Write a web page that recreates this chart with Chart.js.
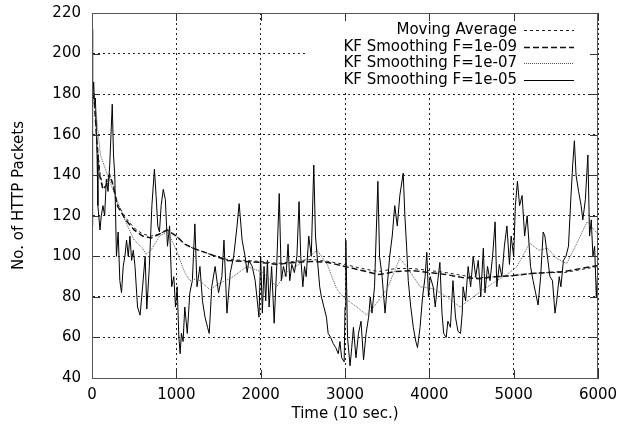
<!DOCTYPE html>
<html>
<head>
<meta charset="utf-8">
<script src="https://cdn.jsdelivr.net/npm/chart.js@4/dist/chart.umd.min.js"></script>
<style>
  html, body { margin: 0; padding: 0; background: #fff; }
  #wrap { width: 632px; height: 431px; }
</style>
</head>
<body>
<div id="wrap"><canvas id="kfChart" width="632" height="431"></canvas></div>
<script>
// raw-ish KF F=1e-05 trace (time, packets)
const rawTime = [0, 5, 10, 20, 30, 40, 50, 60, 70, 80, 95, 110, 130, 150, 170, 190, 210, 225, 240, 255,
  270, 290, 310, 330, 350, 370, 390, 410, 430, 450, 470, 490, 510, 540, 570, 600, 630, 650, 680, 710,
  740, 760, 780, 800, 820, 845, 870, 895, 920, 945, 970, 990, 1010, 1030, 1045, 1060, 1080, 1100, 1130, 1160,
  1190, 1220, 1245, 1280, 1310, 1340, 1370, 1390, 1420, 1460, 1500, 1540, 1565, 1600, 1640, 1680, 1720, 1745, 1780, 1815,
  1840, 1860, 1900, 1935, 1960, 1980, 2000, 2020, 2040, 2060, 2080, 2100, 2130, 2160, 2190, 2220, 2245, 2270, 2300, 2325,
  2345, 2370, 2400, 2430, 2455, 2475, 2500, 2520, 2540, 2570, 2600, 2630, 2650, 2670, 2700, 2720, 2750, 2780, 2800, 2830,
  2860, 2890, 2920, 2940, 2960, 2990, 3000, 3010, 3030, 3060, 3080, 3100, 3130, 3160, 3190, 3220, 3250, 3280, 3300, 3320,
  3350, 3390, 3410, 3440, 3475, 3500, 3530, 3560, 3590, 3620, 3650, 3690, 3710, 3730, 3750, 3780, 3810, 3840, 3860, 3890,
  3920, 3950, 3970, 3990, 4010, 4045, 4070, 4100, 4125, 4150, 4170, 4200, 4220, 4250, 4280, 4310, 4340, 4370, 4390, 4400,
  4430, 4460, 4490, 4520, 4550, 4580, 4610, 4640, 4660, 4690, 4720, 4750, 4780, 4800, 4830, 4860, 4890, 4920, 4950, 4970,
  5000, 5020, 5045, 5070, 5100, 5130, 5160, 5200, 5230, 5260, 5290, 5320, 5350, 5370, 5400, 5430, 5460, 5490, 5510, 5540,
  5560, 5590, 5620, 5650, 5680, 5700, 5720, 5740, 5770, 5800, 5820, 5850, 5880, 5900, 5920, 5940, 5960, 5980, 6000];
const rawPackets = [115, 212, 180, 186, 175, 178, 165, 150, 125, 120, 113, 120, 125, 120, 138, 132, 145, 160, 175, 150,
  140, 100, 112, 88, 82, 95, 100, 108, 100, 110, 98, 103, 95, 75, 71, 85, 100, 74, 95, 125,
  143, 130, 115, 112, 125, 133, 128, 105, 115, 85, 90, 75, 85, 60, 52, 62, 58, 75, 62, 82,
  88, 116, 85, 95, 78, 70, 65, 62, 85, 95, 82, 90, 108, 72, 92, 100, 115, 126, 108, 100,
  92, 98, 95, 88, 78, 70, 100, 72, 95, 78, 98, 75, 95, 67, 95, 131, 88, 95, 90, 106,
  88, 96, 92, 100, 127, 100, 85, 95, 90, 110, 100, 145, 110, 100, 85, 80, 75, 70, 62, 60,
  57, 55, 52, 58, 50, 48, 75, 108, 60, 46, 55, 65, 50, 62, 68, 49, 62, 70, 80, 72,
  85, 137, 100, 90, 72, 85, 100, 110, 125, 115, 130, 141, 120, 105, 88, 75, 65, 58, 55, 65,
  80, 90, 102, 80, 90, 85, 75, 88, 97, 72, 62, 60, 68, 65, 88, 70, 63, 62, 72, 85,
  78, 95, 85, 100, 90, 98, 80, 104, 82, 95, 88, 100, 117, 85, 96, 90, 105, 115, 96, 110,
  100, 125, 137, 125, 130, 110, 120, 95, 88, 82, 76, 90, 112, 110, 100, 90, 88, 72, 78, 90,
  85, 98, 100, 105, 130, 145, 157, 140, 132, 125, 118, 128, 150, 110, 118, 100, 105, 80, 95];

// slow smoothers share one time grid
const smoothTime = [0, 30, 60, 90, 130, 170, 210, 250, 300, 400, 500, 600, 700, 800, 890, 1000, 1100, 1200, 1400, 1600,
  1800, 2000, 2200, 2400, 2600, 2800, 3000, 3200, 3400, 3600, 3800, 4000, 4200, 4400, 4600, 4800, 5000, 5200, 5400, 5600,
  5800, 6000];
const movingAvg = [186, 176, 157, 142, 134, 135, 140, 136, 126, 119, 114, 111, 110, 111, 113, 110, 106, 104, 101, 98.5,
  98, 97.5, 96.5, 97.5, 98.5, 97.5, 96, 94, 92.5, 94, 94, 93, 92, 90.5, 89.5, 90, 90.5, 91.5, 92, 92,
  93.5, 95];
const kf09 = [185, 175, 155, 140, 133, 135, 140, 135, 125, 118, 113, 110, 109, 111, 113, 110, 106, 104, 101, 98,
  97.5, 97, 96, 97, 97.5, 97, 95, 93, 91, 92.5, 93, 92, 91, 89.5, 89, 90, 90.5, 91.5, 92, 92.5,
  94, 95.5];

// KF F=1e-07 (medium smoothing)
const kf07Time = [0, 50, 100, 200, 285, 400, 500, 600, 640, 700, 800, 900, 1000, 1100, 1160, 1250, 1400, 1500, 1640, 1840,
  2030, 2190, 2300, 2450, 2550, 2670, 2790, 2900, 2980, 3140, 3260, 3340, 3500, 3650, 3730, 3890, 4050, 4210, 4365, 4520,
  4760, 4920, 5040, 5190, 5300, 5400, 5510, 5630, 5750, 5870, 6000];
const kf07 = [185, 170, 150, 138, 129, 117, 108, 104, 101, 103, 110, 112, 103, 92, 88, 89, 83.5, 86.5, 89, 95,
  92, 85, 92, 96, 99, 103, 96, 84, 80, 75, 71, 75, 84, 99, 95, 85, 84, 80, 75, 80,
  87, 91, 95, 106.5, 103, 104, 99, 96.5, 106.5, 117, 111];

const xTicks = [0, 1000, 2000, 3000, 4000, 5000, 6000];
const yTicks = [40, 60, 80, 100, 120, 140, 160, 180, 200, 220];

function pairs(xs, ys) {
    return xs.map(function(x, i) { return { x: x, y: ys[i] }; });
}

const FONT = { family: 'DejaVu Sans', size: 15 };

// gnuplot style key: right aligned text, line sample on the right, white box over the grid
const keyBox = { left: 308, right: 598, top: 13, bottom: 92 };
const gnuplotKey = {
    id: 'gnuplotKey',
    beforeDatasetsDraw(chart) {
        const ctx = chart.ctx;
        ctx.save();
        ctx.fillStyle = '#fff';
        ctx.fillRect(keyBox.left, keyBox.top, keyBox.right - keyBox.left, keyBox.bottom - keyBox.top);
        ctx.restore();
    },
    afterDatasetsDraw(chart) {
        const ctx = chart.ctx;
        const area = chart.chartArea;
        const xs = chart.scales.x, ys = chart.scales.y;
        ctx.save();
        // inner ticks on all four sides
        ctx.strokeStyle = '#333';
        ctx.lineWidth = 1;
        ctx.setLineDash([]);
        ctx.beginPath();
        xTicks.forEach(function(v) {
            const px = Math.round(xs.getPixelForValue(v)) + 0.5;
            ctx.moveTo(px, area.bottom); ctx.lineTo(px, area.bottom - 8);
            ctx.moveTo(px, area.top); ctx.lineTo(px, area.top + 8);
        });
        yTicks.forEach(function(v) {
            const py = Math.round(ys.getPixelForValue(v)) + 0.5;
            ctx.moveTo(area.left, py); ctx.lineTo(area.left + 8, py);
            ctx.moveTo(area.right, py); ctx.lineTo(area.right - 8, py);
        });
        ctx.stroke();
        // frame
        ctx.strokeStyle = '#555';
        ctx.strokeRect(Math.round(area.left) + 0.5, Math.round(area.top) + 0.5,
            Math.round(area.right - area.left) - 1, Math.round(area.bottom - area.top));
        // key entries
        ctx.font = FONT.size + 'px ' + FONT.family;
        ctx.fillStyle = '#000';
        ctx.textAlign = 'right';
        ctx.textBaseline = 'middle';
        chart.data.datasets.forEach(function(ds, i) {
            const y = 30 + i * 16.7;
            ctx.fillText(ds.label, 517, y);
            ctx.strokeStyle = ds.borderColor;
            ctx.lineWidth = ds.borderWidth;
            ctx.setLineDash(ds.borderDash || []);
            ctx.beginPath();
            ctx.moveTo(524, Math.round(y) + 0.5);
            ctx.lineTo(574, Math.round(y) + 0.5);
            ctx.stroke();
        });
        ctx.restore();
    }
};

const ctx = document.getElementById('kfChart').getContext('2d');
const chart = new Chart(ctx, {
    type: 'line',
    data: {
        datasets: [{
            label: 'Moving Average',
            data: pairs(smoothTime, movingAvg),
            borderColor: '#222',
            borderWidth: 1,
            borderDash: [3, 3],
            pointRadius: 0
        },
        {
            label: 'KF Smoothing F=1e-09',
            data: pairs(smoothTime, kf09),
            borderColor: '#111',
            borderWidth: 1.5,
            borderDash: [6, 3],
            pointRadius: 0
        },
        {
            label: 'KF Smoothing F=1e-07',
            data: pairs(kf07Time, kf07),
            borderColor: '#555',
            borderWidth: 1,
            borderDash: [1, 1],
            pointRadius: 0
        },
        {
            label: 'KF Smoothing F=1e-05',
            data: pairs(rawTime, rawPackets),
            borderColor: '#000',
            borderWidth: 1,
            pointRadius: 0
        }]
    },
    options: {
        responsive: false,
        animation: false,
        layout: { padding: { top: 13, right: 34, left: 0, bottom: 0 } },
        plugins: {
            legend: { display: false },
            tooltip: { enabled: false }
        },
        scales: {
            x: {
                type: 'linear',
                min: 0,
                max: 6000,
                afterFit: function(scale) { scale.height = 53; },
                afterBuildTicks: function(scale) { scale.ticks = xTicks.map(function(v) { return { value: v }; }); },
                grid: { color: '#222', lineWidth: 1, drawTicks: false },
                border: { display: true, color: '#555', dash: [2, 3] },
                ticks: {
                    color: '#000', font: FONT, padding: 8, maxRotation: 0,
                    callback: function(value) { return String(value); } // no thousands separator
                },
                title: { display: true, text: 'Time (10 sec.)', color: '#000', font: FONT, padding: { top: 0, bottom: 8 } }
            },
            y: {
                type: 'linear',
                min: 40,
                max: 220,
                afterFit: function(scale) {
                    scale.width = 92;
                    // don't let tick padding push the plot down
                    scale.paddingTop = 0;
                    scale.paddingBottom = 0;
                },
                afterBuildTicks: function(scale) { scale.ticks = yTicks.map(function(v) { return { value: v }; }); },
                grid: { color: '#222', lineWidth: 1, drawTicks: false },
                border: { display: true, color: '#555', dash: [2, 3] },
                ticks: { color: '#000', font: FONT, padding: 11 },
                title: { display: true, text: 'No. of HTTP Packets', color: '#000', font: FONT, padding: { top: 10, bottom: 0 } }
            }
        }
    },
    plugins: [gnuplotKey]
});
</script>
</body>
</html>
